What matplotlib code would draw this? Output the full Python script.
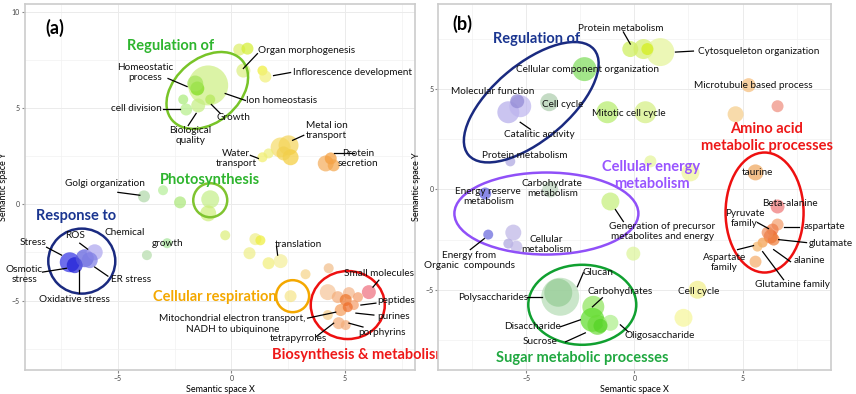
#!/usr/bin/env python

# Semantic similarity scatter plots of enriched GO terms, two panels
# Bubbles in semantic space, groups ringed and labelled

import matplotlib
matplotlib.use("Agg")
import matplotlib.pyplot as plt
from matplotlib.patches import Ellipse
from matplotlib.transforms import ScaledTranslation

plt.rcParams["font.family"] = ["Lato", "DejaVu Sans"]

# ---------------- panel (a) data ----------------
a_x = [-1.02, -1.50, -1.59, -2.12, -1.99, -1.46, -0.93,
       0.35, 0.71, 0.53, 1.37, 1.50,
       2.17, 2.52, 2.61, 2.30, 1.37, 1.64,
       4.16, 4.38, 4.51,
       -0.93, -1.02, -2.26, -3.01, -3.85, -3.72, -2.83,
       -7.12, -6.90, -6.46, -6.02, -6.24,
       -0.27, 1.06, 1.28, 0.80, 1.64, 2.17, 3.27, 4.29, 2.61,
       4.25, 4.69, 5.18, 5.04, 5.40, 4.82, 4.25, 4.73, 5.04, 6.06, 5.13, 5.58]
a_y = [6.17, 6.01, 6.27, 5.44, 4.92, 5.13, 5.44,
       8.03, 8.08, 6.94, 6.94, 6.63,
       2.95, 3.06, 2.44, 2.64, 2.44, 2.64,
       2.12, 2.38, 2.02,
       0.26, -0.47, 0.10, 0.73, 0.41, -2.64, -2.02,
       -3.01, -3.16, -2.80, -2.49, -2.90,
       -1.61, -1.81, -1.87, -2.54, -3.06, -2.95, -3.63, -3.32, -4.77,
       -4.56, -4.82, -4.61, -4.97, -5.23, -5.49, -5.75, -6.17, -6.27, -4.56, -5.34, -4.82]
a_size = [20, 7, 8, 5, 6, 7, 5,
          6, 6, 7, 5, 6,
          10, 10, 8, 7, 5, 5,
          8, 6, 6,
          9, 8, 6, 5, 6, 5, 5,
          10, 8, 9, 8, 8,
          5, 6, 5, 6, 6, 7, 5, 5, 6,
          8, 6, 6, 6, 5, 6, 5, 6, 5, 7, 5, 5]
a_col = ["#cdee80", "#7cdc18", "#a4e458", "#a8ec78", "#b4ee88", "#c4ee80", "#b4e858",
         "#dcee68", "#d4ee30", "#dcee80", "#eeee38", "#f2f078",
         "#f6dc68", "#f4d458", "#f4cc38", "#f2d050", "#f2ee68", "#eeee78",
         "#f4ac58", "#f49c38", "#f4a448",
         "#c4ee88", "#ccee78", "#aae878", "#b4ee98", "#b0d8a8", "#b4dcaa", "#a4e498",
         "#3030e4", "#1c1cd4", "#5858dc", "#aca4ee", "#7c7ce4",
         "#dcee78", "#eeee88", "#eeee38", "#eeee88", "#f2ee78", "#f4ee98", "#f6d488", "#f2bc88", "#f6e488",
         "#f6c498", "#f4ac78", "#f4b488", "#ee7428", "#f49c68", "#f49c58", "#f6cc88", "#f4ac78", "#f4ac78",
         "#ee6c7c", "#ee6c28", "#f49c68"]

# group rings of panel (a): centre x, centre y
a_ring_x = [-1.06, -0.93, -6.59, 2.70, 5.13]
a_ring_y = [5.91, 0.21, -2.95, -4.77, -5.23]

# ---------------- panel (b) data ----------------
b_x = [-2.31, -5.83, -5.28, -5.42, -3.94, -5.74, -1.25, 0.51,
       -0.19, 0.42, 1.20, 0.60,
       5.28, 4.68, 6.62, 5.60, 0.74, 2.59,
       -6.90, -3.89, -1.11, -6.76, -5.60, -5.83, -5.46, -0.05,
       -3.43, -3.52, -1.90, -1.94, -1.71, -1.11, -1.57, 2.92, 2.27,
       6.62, 6.62, 6.39, 6.30, 6.44, 5.93, 5.69, 5.60, 6.16]
b_y = [6.00, 3.85, 4.15, 4.40, 4.35, 1.40, 3.85, 3.85,
       7.00, 7.00, 6.85, 7.00,
       5.20, 3.75, 4.15, 0.85, 1.40, 0.85,
       -0.20, 0.00, -0.60, -2.25, -2.15, -2.70, -2.85, -3.20,
       -5.35, -5.15, -5.85, -6.50, -6.75, -6.65, -6.80, -5.00, -6.40,
       -0.85, -1.75, -2.00, -2.35, -2.50, -2.65, -2.85, -3.60, -2.15]
b_size = [12, 11, 11, 7, 9, 5, 11, 11,
          8, 10, 14, 6,
          7, 8, 6, 8, 6, 9,
          6, 8, 9, 5, 8, 5, 6, 7,
          19, 14, 11, 12, 10, 8, 7, 9, 9,
          7, 6, 6, 7, 6, 5, 5, 6, 6]
b_col = ["#7cdc58", "#b4acea", "#bcb4ee", "#9088d4", "#acccac", "#aca4e0", "#b4ec68", "#d4ee80",
         "#cdee58", "#d4ee68", "#e4f498", "#d4ee18",
         "#f6bc78", "#f6cc88", "#ee8c7c", "#eea458", "#e4f498", "#eef498",
         "#5858dc", "#bcd4bc", "#c4ee78", "#6464dc", "#bcb4e6", "#aca4de", "#bcb4e6", "#dcf498",
         "#b4dcb4", "#94cc94", "#8ce458", "#5cdc28", "#6cdc38", "#acee88", "#54d424", "#f2ee88", "#f6f698",
         "#ee7474", "#f49c68", "#ee7c48", "#ee6428", "#ee7c38", "#f49c48", "#f4b468", "#f4ac68", "#ee8c58"]

b_ring_x = [-4.77, -4.07, -2.41, 6.02]
b_ring_y = [4.35, -1.20, -5.75, -1.15]

DPI = 100
fig = plt.figure(figsize=(8.56, 3.94), dpi=DPI, facecolor="white")
ax_a = fig.add_axes([0.029, 0.061, 0.456, 0.929])
ax_b = fig.add_axes([0.512, 0.061, 0.459, 0.929])


def style_axes(ax, xlim, ylim, yticks):
    ax.set_xticks([-5, 0, 5])
    ax.set_yticks(yticks)
    ax.set_xticks([-7.5, -2.5, 2.5, 7.5], minor=True)
    ax.set_yticks([-7.5, -2.5, 2.5, 7.5], minor=True)
    # limits after the ticks, so the ticks do not widen them
    ax.set_xlim(*xlim)
    ax.set_ylim(*ylim)
    ax.grid(True, which="major", color="#ebebeb", linewidth=0.7, zorder=0)
    ax.grid(True, which="minor", color="#f2f2f2", linewidth=0.5, zorder=0)
    ax.set_axisbelow(True)
    ax.tick_params(which="major", labelsize=5, length=2, color="#888888",
                   labelcolor="#444444", pad=1.5)
    ax.tick_params(which="minor", length=0)
    for s in ax.spines.values():
        s.set_color("#cccccc")
        s.set_linewidth(1.2)
    ax.set_xlabel("Semantic space X", fontsize=6.5, labelpad=2)
    ax.set_ylabel("Semantic space Y", fontsize=6.5, labelpad=3)


style_axes(ax_a, (-9.1, 8.1), (-8.6, 10.4), [-5, 0, 5, 10])
style_axes(ax_b, (-9.07, 9.1), (-9.0, 9.25), [-5, 0, 5])

ax_a.scatter(a_x, a_y, s=[2.07 * r * r for r in a_size], c=a_col,
             alpha=0.7, edgecolors="none", zorder=2)
ax_b.scatter(b_x, b_y, s=[2.07 * r * r for r in b_size], c=b_col,
             alpha=0.7, edgecolors="none", zorder=2)


def ring(ax, x, y, a, b, angle, color):
    # semi-axes in pixels so the ring keeps its shape whatever the data scales
    tr = fig.dpi_scale_trans + ScaledTranslation(x, y, ax.transData)
    e = Ellipse((0, 0), 2 * a / DPI, 2 * b / DPI, angle=angle, transform=tr,
                fill=False, edgecolor=color, linewidth=1.8, zorder=3)
    ax.add_patch(e)


a_ring_style = [(46, 32, 40, "#78c428"), (17, 17, 0, "#80c430"), (33.5, 32.5, 0, "#1a2a80"),
                (16.5, 16, 0, "#f4a800"), (37, 34, 0, "#ee1010")]
for (x, y, (ra, rb, ang, c)) in zip(a_ring_x, a_ring_y, a_ring_style):
    ring(ax_a, x, y, ra, rb, ang, c)

b_ring_style = [(82, 38, 40, "#1a2a80"), (92, 41, 0, "#9050f8"), (54, 40, 0, "#10a030"),
                (39, 60, 0, "#ee1010")]
for (x, y, (ra, rb, ang, c)) in zip(b_ring_x, b_ring_y, b_ring_style):
    ring(ax_b, x, y, ra, rb, ang, c)


def label(ax, txt, x, y, ha="center", line=None, size=7.2):
    ax.text(x, y, txt, ha=ha, va="center", fontsize=size, color="#111111",
            linespacing=1.2, zorder=5)
    if line is not None:
        (x1, y1), (x2, y2) = line
        ax.plot([x1, x2], [y1, y2], color="black", linewidth=0.9, zorder=4)


def title(ax, txt, x, y, color, size=10.5):
    ax.text(x, y, txt, ha="center", va="center", fontsize=size, color=color,
            fontweight="bold", linespacing=1.25, zorder=5)


# ---------------- panel (a) labels ----------------
ax_a.text(-7.79, 9.17, "(a)", fontsize=13, fontweight="bold", ha="center", va="center")
title(ax_a, "Regulation of", -2.70, 8.24, "#2eb52e")
title(ax_a, "Photosynthesis", -0.93, 1.24, "#2eb52e")
title(ax_a, "Response to", -6.86, -0.62, "#1a3590")
title(ax_a, "Cellular respiration", -0.75, -4.82, "#f4a800")
title(ax_a, "Biosynthesis & metabolism", 5.66, -7.82, "#ee1818")

label(ax_a, "Homeostatic\nprocess", -3.81, 6.84, line=((-2.79, 6.53), (-1.95, 6.11)))
label(ax_a, "cell division", -3.05, 4.97, ha="right", line=((-3.01, 4.97), (-2.26, 4.97)))
label(ax_a, "Biological\nquality", -1.81, 3.58, line=((-1.90, 4.09), (-1.55, 4.72)))
label(ax_a, "Growth", 0.09, 4.51, line=((-0.49, 4.72), (-0.88, 5.18)))
label(ax_a, "Ion homeostasis", 0.66, 5.39, ha="left", line=((0.62, 5.39), (-0.27, 5.75)))
label(ax_a, "Organ morphogenesis", 1.19, 7.98, ha="left", line=((1.15, 7.82), (0.53, 7.05)))
label(ax_a, "Inflorescence development", 2.70, 6.84, ha="left", line=((2.61, 6.84), (1.86, 6.68)))
label(ax_a, "Metal ion\ntransport", 3.27, 3.83, ha="left", line=((3.19, 3.58), (2.70, 3.32)))
label(ax_a, "Protein\nsecretion", 5.58, 2.38, line=((5.40, 2.64), (4.51, 2.64)))
label(ax_a, "Water\ntransport", 0.22, 2.38, line=((0.84, 2.54), (1.19, 2.38)))
label(ax_a, "Golgi organization", -5.58, 1.09, line=((-5.0, 0.62), (-4.03, 0.47)))
label(ax_a, "Chemical", -4.69, -1.45)
label(ax_a, "ROS", -6.90, -1.61, line=((-6.68, -2.02), (-6.33, -2.33)))
label(ax_a, "Stress", -8.72, -1.97, line=((-8.14, -2.23), (-7.48, -2.64)))
label(ax_a, "Osmotic\nstress", -9.12, -3.63, line=((-8.32, -3.52), (-7.26, -3.32)))
label(ax_a, "ER stress", -4.42, -3.89, line=((-5.44, -3.73), (-6.02, -3.26)))
label(ax_a, "Oxidative stress", -6.90, -4.92, line=((-6.73, -4.61), (-6.73, -3.42)))
label(ax_a, "growth", -2.79, -2.02)
label(ax_a, "translation", 2.96, -2.07, line=((1.99, -2.18), (2.04, -2.64)))
label(ax_a, "Small molecules", 6.50, -3.58, line=((6.50, -3.94), (6.24, -4.30)))
label(ax_a, "peptides", 7.26, -4.97, line=((6.37, -5.13), (5.71, -5.23)))
label(ax_a, "purines", 7.17, -5.80, line=((6.28, -5.75), (5.49, -5.65)))
label(ax_a, "porphyrins", 6.64, -6.68, line=((5.80, -6.37), (5.18, -6.17)))
label(ax_a, "tetrapyrroles", 2.96, -6.99, line=((3.72, -6.89), (4.51, -6.17)))
label(ax_a, "Mitochondrial electron transport,\nNADH to ubiquinone", 0.04, -6.22,
      line=((3.36, -5.91), (4.60, -5.60)))

# ---------------- panel (b) labels ----------------
ax_b.text(-7.96, 8.25, "(b)", fontsize=13, fontweight="bold", ha="center", va="center")
title(ax_b, "Regulation of", -4.54, 7.5, "#1a3590")
title(ax_b, "Amino acid\nmetabolic processes", 6.11, 2.6, "#ee1818")
title(ax_b, "Cellular energy\nmetabolism", 0.79, 0.7, "#9955ff")
title(ax_b, "Sugar metabolic processes", -2.41, -8.4, "#20a840")

label(ax_b, "Protein metabolism", -0.65, 8.05, line=((-0.51, 7.85), (-0.19, 7.25)))
label(ax_b, "Cytosqueleton organization", 2.92, 6.9, ha="left", line=((1.90, 6.85), (2.73, 6.9)))
label(ax_b, "Cellular component organization", -2.18, 6.0)
label(ax_b, "Molecular function", -6.57, 4.9)
label(ax_b, "Cell cycle", -3.33, 4.25)
label(ax_b, "Catalitic activity", -4.40, 2.75, line=((-5.28, 3.35), (-4.81, 3.0)))
label(ax_b, "Protein metabolism", -5.05, 1.7)
label(ax_b, "Mitotic cell cycle", -0.28, 3.8)
label(ax_b, "Microtubule based process", 5.51, 5.2)
label(ax_b, "taurine", 5.69, 0.85)
label(ax_b, "Energy reserve\nmetabolism", -6.76, -0.35)
label(ax_b, "Carbohydrate\nmetabolism", -3.80, 0.05)
label(ax_b, "Generation of precursor\nmetabolites and energy", 1.30, -2.1,
      line=((-0.88, -1.0), (-0.51, -1.6)))
label(ax_b, "Cellular\nmetabolism", -4.07, -2.75)
label(ax_b, "Energy from\nOrganic  compounds", -7.64, -3.55, line=((-6.94, -2.45), (-7.59, -3.0)))
label(ax_b, "Polysaccharides", -6.53, -5.4, line=((-4.95, -5.35), (-4.26, -5.35)))
label(ax_b, "Glucan", -1.67, -4.15, line=((-2.36, -4.15), (-2.64, -4.85)))
label(ax_b, "Carbohydrates", -0.65, -5.1, line=((-1.48, -5.4), (-1.94, -5.85)))
label(ax_b, "Disaccharide", -4.72, -6.85, line=((-3.43, -6.85), (-2.5, -6.5)))
label(ax_b, "Sucrose", -4.35, -7.6, line=((-3.19, -7.6), (-2.27, -7.15)))
label(ax_b, "Oligosaccharide", 1.16, -7.3, line=((-0.65, -6.75), (-0.28, -7.1)))
label(ax_b, "Cell cycle", 2.96, -5.1)
label(ax_b, "Beta-alanine", 7.18, -0.7)
label(ax_b, "Pyruvate\nfamily", 5.09, -1.45, line=((5.69, -1.65), (6.20, -1.95)))
label(ax_b, "aspartate", 7.82, -1.85, ha="left", line=((6.90, -1.85), (7.59, -1.85)))
label(ax_b, "glutamate", 8.06, -2.7, ha="left", line=((6.67, -2.5), (7.96, -2.65)))
label(ax_b, "alanine", 7.36, -3.55, ha="left", line=((6.44, -3.0), (7.22, -3.6)))
label(ax_b, "Aspartate\nfamily", 4.17, -3.65, line=((4.77, -3.0), (5.51, -2.8)))
label(ax_b, "Glutamine family", 7.31, -4.75, line=((5.93, -3.1), (6.90, -4.5)))

fig.savefig("out.png", dpi=DPI, facecolor="white")
